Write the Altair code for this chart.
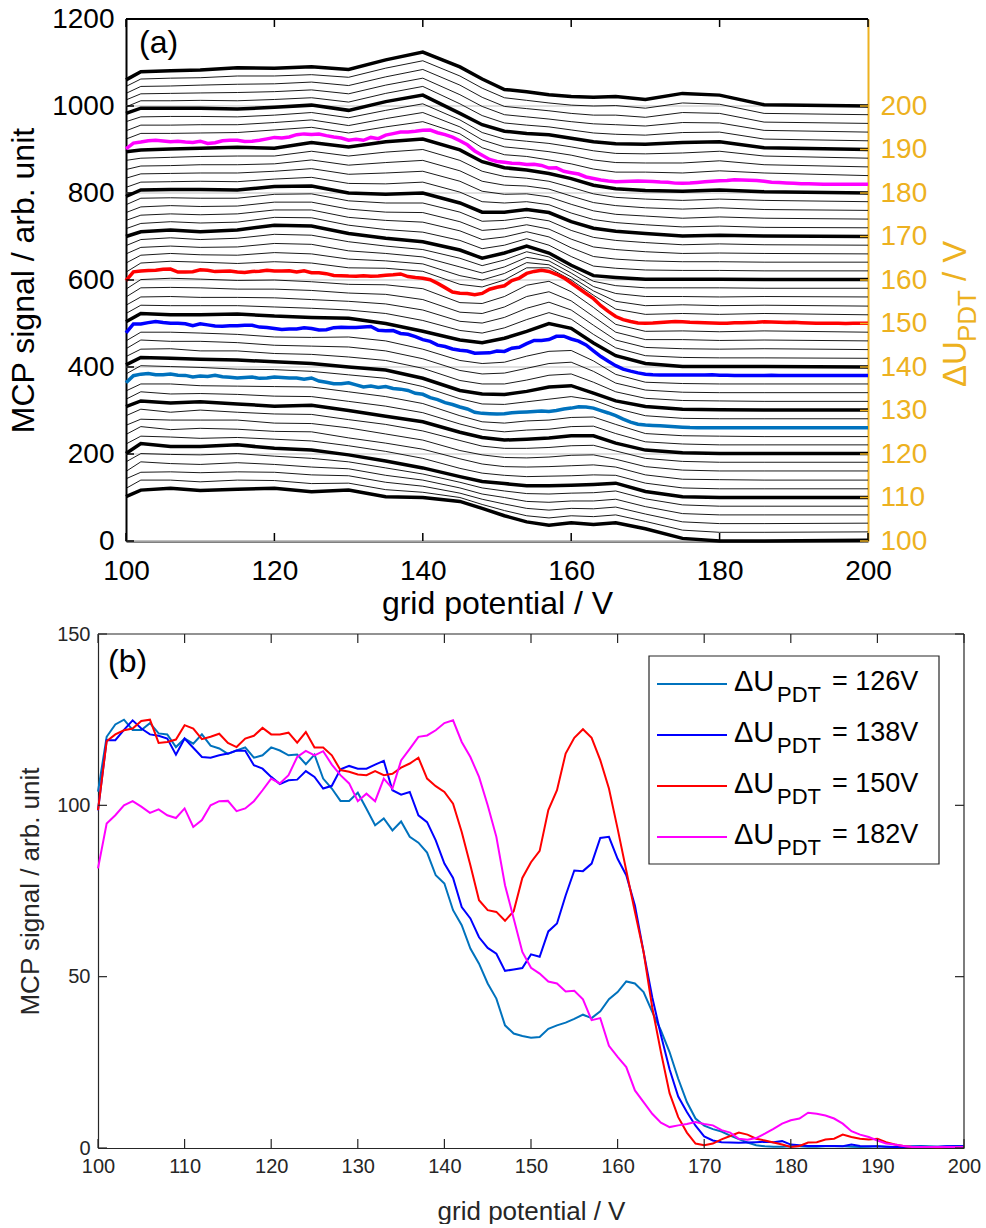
import altair as alt
import pandas as pd

# ---------------- data ----------------
# Panel (a): grid potential sampling used for the stacked (waterfall) curves
G = [100, 102, 106, 110, 115, 120, 125, 130, 135, 140, 145, 148, 151, 154,
     157, 160, 163, 166, 170, 175, 180, 186, 200]

# thick black curves (every 10 V of Delta U_PDT), raw signal (no offset)
THICK = {
    100: [102, 117, 121, 116, 119, 121, 113, 117, 102, 100, 91, 75, 58, 44, 36, 42, 38, 42, 28, 6, 0, 0, 2],
    110: [101, 124, 117, 117, 121, 113, 109, 98, 84, 68, 48, 37, 32, 27, 27, 28, 30, 33, 14, 2, 0, 0, 0],
    120: [109, 122, 117, 120, 115, 110, 112, 100, 87, 74, 50, 38, 32, 34, 37, 42, 42, 25, 9, 3, 1, 1, 1],
    130: [105, 122, 120, 118, 116, 112, 108, 100, 93, 74, 46, 38, 37, 44, 54, 57, 40, 22, 9, 3, 2, 1, 1],
    140: [104, 123, 120, 120, 122, 117, 114, 112, 100, 82, 62, 56, 66, 82, 100, 89, 55, 26, 8, 1, 1, 1, 0],
    160: [100, 111, 115, 111, 115, 126, 124, 107, 96, 88, 69, 50, 62, 78, 62, 34, 10, 6, 2, 2, 2, 1, 1],
    170: [92, 107, 108, 108, 107, 115, 116, 100, 97, 100, 77, 56, 56, 62, 55, 34, 19, 12, 7, 1, 3, 1, 0],
    180: [95, 99, 101, 103, 105, 103, 116, 106, 118, 124, 99, 72, 58, 53, 45, 33, 18, 10, 6, 4, 7, 3, 0],
    190: [83, 95, 95, 95, 93, 97, 102, 90, 110, 125, 83, 57, 42, 37, 34, 26, 18, 13, 12, 16, 18, 4, 0],
    200: [60, 79, 81, 83, 88, 87, 90, 84, 106, 124, 90, 62, 38, 33, 26, 22, 20, 22, 15, 29, 25, 3, 0],
}

# thin black curves (2 V steps)
THIN = {
    102: [101, 120, 120, 116, 120, 119, 112, 113, 98, 92, 80, 64, 50, 38, 33, 38, 36, 40, 25, 5, 0, 0, 1],
    104: [103, 118, 119, 117, 119, 118, 112, 110, 95, 86, 70, 56, 45, 35, 31, 35, 34, 38, 22, 4, 0, 0, 1],
    106: [100, 122, 118, 116, 120, 116, 110, 106, 91, 80, 62, 48, 40, 31, 29, 32, 32, 36, 19, 3, 0, 0, 0],
    108: [102, 121, 119, 118, 121, 115, 110, 102, 88, 74, 55, 42, 35, 29, 28, 30, 31, 35, 17, 3, 0, 0, 0],
    112: [103, 121, 119, 116, 118, 114, 110, 99, 86, 70, 47, 36, 31, 28, 29, 30, 32, 31, 13, 2, 0, 0, 0],
    114: [105, 123, 116, 119, 117, 112, 111, 97, 85, 71, 49, 37, 31, 30, 31, 33, 35, 30, 12, 2, 1, 0, 0],
    116: [106, 120, 118, 118, 118, 111, 110, 100, 86, 72, 48, 38, 32, 31, 33, 37, 38, 28, 11, 3, 1, 1, 1],
    118: [108, 123, 116, 121, 116, 112, 111, 99, 88, 73, 51, 38, 33, 33, 35, 39, 40, 27, 10, 3, 1, 1, 1],
    122: [106, 123, 118, 119, 117, 113, 112, 101, 90, 75, 49, 36, 31, 35, 37, 43, 44, 27, 8, 3, 1, 1, 1],
    124: [105, 121, 121, 117, 116, 115, 114, 103, 92, 76, 48, 34, 31, 36, 38, 44, 45, 28, 7, 2, 1, 0, 0],
    128: [104, 123, 121, 119, 115, 114, 110, 102, 94, 75, 47, 35, 34, 40, 46, 52, 44, 25, 8, 2, 1, 1, 1],
    132: [104, 121, 122, 117, 117, 111, 109, 103, 95, 77, 49, 41, 41, 50, 61, 64, 45, 23, 8, 3, 2, 1, 1],
    134: [102, 122, 119, 119, 116, 110, 108, 106, 97, 79, 52, 44, 46, 57, 68, 71, 50, 23, 7, 2, 1, 1, 1],
    136: [100, 120, 120, 118, 115, 109, 108, 109, 100, 81, 55, 48, 51, 65, 76, 78, 54, 23, 5, 2, 1, 1, 1],
    142: [103, 122, 121, 121, 121, 118, 115, 111, 103, 87, 64, 58, 70, 89, 105, 90, 55, 24, 6, 2, 1, 1, 0],
    144: [102, 121, 122, 120, 120, 119, 115, 111, 105, 91, 65, 61, 74, 95, 109, 91, 56, 22, 5, 2, 1, 2, 0],
    146: [101, 122, 123, 122, 119, 119, 116, 110, 107, 95, 66, 63, 78, 102, 113, 92, 56, 20, 3, 3, 1, 2, 0],
    148: [99, 121, 124, 122, 119, 120, 116, 110, 109, 100, 68, 66, 82, 108, 117, 93, 57, 18, 2, 3, 1, 3, 0],
    152: [98, 119, 123, 121, 118, 122, 119, 108, 107, 100, 70, 64, 80, 108, 108, 80, 45, 13, 1, 3, 1, 3, 0],
    154: [99, 117, 121, 118, 117, 123, 120, 108, 104, 97, 70, 60, 75, 100, 95, 67, 35, 11, 1, 3, 1, 2, 0],
    156: [100, 115, 118, 115, 116, 124, 122, 107, 101, 93, 70, 56, 70, 92, 84, 56, 25, 9, 2, 2, 1, 2, 1],
    158: [99, 113, 117, 113, 116, 125, 123, 108, 98, 90, 70, 53, 66, 85, 73, 45, 17, 7, 2, 2, 2, 1, 1],
    162: [98, 110, 114, 111, 113, 124, 123, 106, 96, 90, 71, 52, 60, 75, 60, 34, 12, 7, 3, 2, 2, 1, 1],
    164: [97, 109, 112, 110, 112, 121, 121, 104, 97, 93, 73, 53, 59, 71, 59, 34, 14, 8, 4, 2, 2, 1, 1],
    166: [95, 108, 111, 109, 110, 119, 119, 103, 96, 95, 74, 54, 58, 67, 57, 34, 16, 10, 5, 1, 2, 1, 0],
    168: [93, 108, 109, 108, 108, 117, 118, 102, 97, 97, 76, 55, 57, 64, 56, 34, 18, 11, 6, 1, 3, 1, 0],
    172: [93, 105, 106, 107, 106, 112, 116, 102, 101, 105, 82, 60, 57, 60, 53, 34, 19, 12, 7, 2, 4, 1, 0],
    174: [94, 104, 105, 106, 106, 110, 116, 103, 106, 110, 87, 64, 57, 58, 51, 34, 19, 11, 7, 2, 5, 2, 0],
    176: [94, 102, 103, 105, 105, 107, 116, 104, 110, 115, 91, 67, 58, 56, 49, 33, 18, 11, 6, 3, 6, 2, 0],
    178: [95, 100, 102, 104, 105, 105, 116, 105, 114, 120, 95, 70, 58, 54, 47, 33, 18, 10, 6, 3, 6, 3, 0],
    184: [84, 97, 97, 98, 99, 105, 111, 98, 112, 124, 96, 64, 48, 44, 36, 27, 15, 8, 8, 6, 11, 6, 0],
    186: [83, 96, 96, 97, 97, 102, 108, 95, 111, 125, 92, 62, 46, 41, 35, 27, 16, 10, 9, 9, 14, 5, 0],
    188: [84, 95, 96, 96, 95, 99, 105, 93, 110, 125, 88, 59, 44, 39, 34, 26, 17, 11, 10, 12, 16, 5, 0],
    192: [78, 92, 92, 93, 92, 95, 99, 89, 109, 125, 85, 58, 41, 36, 32, 25, 18, 15, 13, 19, 20, 4, 0],
    194: [74, 88, 89, 90, 91, 93, 97, 88, 108, 124, 86, 59, 40, 35, 30, 24, 19, 17, 14, 22, 21, 4, 0],
    196: [69, 85, 86, 88, 90, 91, 95, 87, 107, 124, 88, 60, 39, 34, 29, 23, 19, 19, 14, 25, 23, 3, 0],
    198: [65, 82, 84, 85, 89, 89, 92, 86, 107, 124, 89, 61, 39, 33, 27, 22, 20, 21, 15, 27, 24, 3, 0],
}

# highlighted curves, 1 V steps (panel b, also coloured in panel a)
V1 = list(range(100, 201))
S126 = [104, 120, 123.6, 125, 122, 122, 124, 121, 120.7, 117,
        119.5, 118, 120.7, 117.4, 116.6, 115, 116, 116.9, 113.9, 114.6,
        116.9, 116, 114.6, 114.8, 112, 114.8, 107.8, 104.9, 101.3, 101.3,
        103.7, 99, 94.2, 96.2, 92.7, 95.3, 90.8, 89.1, 86.2, 79.6,
        77.2, 69.4, 65, 58.2, 53.8, 48, 43.6, 35.8, 33.4, 32.7,
        32.2, 32.4, 34.8, 35.8, 36.6, 37.7, 38.9, 37.9, 39.9, 43.4,
        45.5, 48.6, 48, 45.5, 39.7, 34.3, 28, 20.2, 13.4, 8.6,
        6.5, 5.5, 4.8, 3.6, 2.6, 1.6, 0.8, 0.5, 0.4, 0.4,
        0.5, 0.5, 0.4, 0.4, 0.5, 0.6, 0.5, 0.4, 0.3, 0.4,
        0.5, 0.4, 0.3, 0.4, 0.5, 0.6, 0.5, 0.4, 0.5, 0.6,
        0.6]
S138 = [98.5, 119, 119, 122, 124.8, 122.4, 120.7, 120.3, 119.5, 114.8,
        119.5, 116.8, 114.1, 113.9, 114.6, 115.1, 116, 115.9, 111.7, 110.7,
        108.3, 106.2, 107.3, 107.5, 110, 108.3, 104.9, 105.7, 110.5, 111.5,
        110.7, 110.7, 111.9, 113, 104.4, 103.1, 103.9, 97.1, 95.1, 89.8,
        83, 78.8, 70.3, 67, 61.5, 58.4, 56.7, 51.7, 52.1, 52.5,
        56.5, 55.8, 63.2, 65.5, 73.7, 81, 80.8, 83, 90.5, 90.8,
        84.4, 79.6, 70.8, 57.2, 44, 33, 23, 15, 10.5, 6.5,
        3.4, 2.2, 1.7, 1.6, 1.5, 1.6, 1.7, 1.8, 1.7, 2,
        1, 0.8, 0.6, 0.6, 0.6, 0.6, 0.5, 1, 0.6, 0.5,
        0.5, 0.4, 0.3, 0.3, 0.4, 0.4, 0.3, 0.4, 0.5, 0.5,
        0.5]
S150 = [98.6, 118.7, 120.7, 121.9, 122.4, 124.6, 125, 118.2, 118.5, 119.2,
        123.4, 122.4, 119.3, 120, 120.9, 118.2, 117, 119.5, 120.3, 122.6,
        120.7, 120.7, 121.2, 118.3, 121.4, 116.9, 116.9, 114.6, 110.3, 109.8,
        109, 108.8, 110, 108.8, 109.2, 111, 112.2, 113.9, 107.8, 105.6,
        103.9, 100.5, 92.2, 82.5, 72.3, 69.4, 68.9, 66.3, 69.1, 78.8,
        83.4, 86.7, 98.6, 104.4, 115.1, 119.7, 122.2, 119.7, 113.2, 104.9,
        93.2, 81, 68.9, 57.2, 41, 28, 16, 9, 4.5, 1.3,
        0.8, 1.3, 2.5, 3.5, 4.5, 3.9, 2.7, 2.2, 1.6, 1,
        0.3, 0.6, 1.6, 1.7, 2.5, 2.7, 3.9, 3.2, 2.7, 2.5,
        2.7, 1.7, 1, 0.6, 0.3, 0.3, 0.3, 0.2, 0.3, 0.3,
        0.3]
S182 = [81.6, 94.7, 97.1, 100, 101.2, 99.6, 97.8, 98.8, 97.1, 96.3,
        99.1, 93.7, 95.7, 100, 101.2, 101.3, 98.3, 99.1, 101.2, 104.4,
        107.8, 106.4, 108.8, 114.1, 115.9, 114.6, 115.8, 111.9, 108.8, 106.4,
        101.2, 103.4, 101.2, 107.8, 104.9, 113.1, 116.5, 120, 120.4, 121.9,
        124, 124.8, 118.5, 114.1, 108.3, 100, 90.8, 76.7, 67, 57.2,
        52.6, 50.9, 48.6, 48, 45.7, 45.9, 43.4, 37.3, 37.9, 29.8,
        26.6, 23.6, 16.8, 13.4, 10, 7.4, 6.1, 6.6, 7, 7.6,
        7, 6.6, 5.2, 4.5, 2.7, 2.4, 2.9, 4.2, 5.6, 7.1,
        8.1, 8.6, 10.3, 10, 9.5, 8.6, 7.1, 4.9, 3.9, 3.2,
        2.2, 1.3, 1, 0.6, 0.3, 0.3, 0.3, 0.3, 0.3, 0.3,
        0.3]

SERIES = [("126", S126), ("138", S138), ("150", S150), ("182", S182)]
COLORS = ["#0072BD", "#0000FF", "#FF0000", "#FF00FF"]

XT_A = [100, 120, 140, 160, 180, 200]
YT_A = [0, 200, 400, 600, 800, 1000, 1200]
RT_A = [100, 110, 120, 130, 140, 150, 160, 170, 180, 190, 200]
XT_B = [100, 110, 120, 130, 140, 150, 160, 170, 180, 190, 200]
YT_B = [0, 50, 100, 150]
LEG_TEXT = ["= 126V", "= 138V", " = 150V", " = 182V"]

ORANGE = "#EDB120"
DG = "#262626"
FONT = "Liberation Sans"

# ---------------- panel (a) ----------------
D = 28                 # panel (a) plot starts D px right of panel (b)'s plot
W_A, H_A = 742, 522
W_A2 = W_A + D


def stack(curves, grid):
    rows = []
    for du, vals in curves:
        for v, s in zip(grid, vals):
            rows.append({"V": v, "Y": s + (int(du) - 100) * 10, "du": str(du)})
    return pd.DataFrame(rows)


df_thin = stack(THIN.items(), G)
df_thick = stack(THICK.items(), G)
df_col = stack(SERIES, V1)

xa = alt.Scale(domain=[100, 200], range=[D, W_A2], nice=False, zero=False)
ya = alt.Scale(domain=[0, 1200], nice=False, zero=False)
ax_xa = alt.Axis(values=XT_A, format="d", title="grid potential / V", labelFontSize=28, titleFontSize=32,
                 labelColor="black", titleColor="black", domainColor="black", domainWidth=2,
                 ticks=False, tickSize=0, labelPadding=16, titlePadding=3, labelFlush=False,
                 labelOverlap=False, grid=False, titleFontWeight="normal", labelFont=FONT, titleFont=FONT)
ax_ya = alt.Axis(values=YT_A, format="d", title="MCP signal / arb. unit", labelFontSize=28, titleFontSize=32,
                 labelColor="black", titleColor="black", domainColor="black", domainWidth=2,
                 ticks=False, tickSize=0, labelPadding=12, titlePadding=11, labelFlush=False,
                 labelOverlap=False, grid=False, offset=-D,
                 titleFontWeight="normal", labelFont=FONT, titleFont=FONT)

X_A = alt.X("V:Q", scale=xa, axis=ax_xa)
Y_A = alt.Y("Y:Q", scale=ya, axis=ax_ya)

one = pd.DataFrame({"k": [0]})
grid_a = alt.Chart(pd.DataFrame({"Y": YT_A})).mark_rule(color="#d6d6d6", strokeWidth=1.6).encode(
    y=Y_A, x=alt.value(D), x2=alt.value(W_A2))
thin = alt.Chart(df_thin).mark_line(color="black", strokeWidth=0.9).encode(x=X_A, y=Y_A, detail="du:N")
thick = alt.Chart(df_thick).mark_line(color="black", strokeWidth=3.5).encode(x=X_A, y=Y_A, detail="du:N")
col = alt.Chart(df_col).mark_line(strokeWidth=3.5).encode(
    x=X_A, y=Y_A,
    color=alt.Color("du:N", scale=alt.Scale(domain=[s[0] for s in SERIES], range=COLORS), legend=None))

tl_a = alt.Chart(pd.DataFrame({"Y": YT_A})).mark_rule(color="black", strokeWidth=1.5).encode(
    y=Y_A, x=alt.value(D), x2=alt.value(D + 8))
tb_a = alt.Chart(pd.DataFrame({"V": XT_A})).mark_rule(color="black", strokeWidth=1.5).encode(
    x=X_A, y=alt.value(H_A), y2=alt.value(H_A - 8))
tt_a = alt.Chart(pd.DataFrame({"V": XT_A})).mark_rule(color="black", strokeWidth=1.5).encode(
    x=X_A, y=alt.value(0), y2=alt.value(8))
top_a = alt.Chart(one).mark_rule(color="black", strokeWidth=2).encode(
    x=alt.value(D), x2=alt.value(W_A2), y=alt.value(0))
lab_a = alt.Chart(pd.DataFrame({"t": ["(a)"]})).mark_text(
    align="left", baseline="middle", fontSize=32, color="black", font=FONT).encode(
    text="t:N", x=alt.value(D + 13), y=alt.value(24))


def rtext(t, x, y, size):
    return alt.Chart(pd.DataFrame({"t": [t]})).mark_text(
        align="left", baseline="middle", angle=270, fontSize=size, color=ORANGE, font=FONT).encode(
        text="t:N", x=alt.value(x), y=alt.value(y))


rt1 = rtext("\u0394U", W_A2 + 88, 368, 33)
rt2 = rtext("PDT", W_A2 + 100, 323, 26)
rt3 = rtext("/ V", W_A2 + 88, 262, 33)

inner_a = alt.layer(grid_a, thin, thick, col, tl_a, tb_a, tt_a, top_a, lab_a, rt1, rt2, rt3)

right_a = alt.Chart(pd.DataFrame({"R": RT_A})).mark_rule(color=ORANGE, strokeWidth=1.5).encode(
    y=alt.Y("R:Q", scale=alt.Scale(domain=[100, 220], nice=False, zero=False),
            axis=alt.Axis(orient="right", values=RT_A, format="d", title=None, labelColor=ORANGE,
                          labelFontSize=28, domainColor=ORANGE, domainWidth=2, ticks=False, tickSize=0,
                          labelPadding=12, labelFlush=False, labelOverlap=False, grid=False, labelFont=FONT)),
    x=alt.value(W_A2 - 8), x2=alt.value(W_A2))

panel_a = alt.layer(inner_a, right_a).resolve_scale(y="independent").properties(width=W_A2, height=H_A)

# ---------------- panel (b) ----------------
W_B, H_B = 866, 514
xb = alt.Scale(domain=[100, 200], nice=False, zero=False)
yb = alt.Scale(domain=[0, 150], nice=False, zero=False)
ax_xb = alt.Axis(values=XT_B, format="d", title="grid potential / V", labelFontSize=20, titleFontSize=26,
                 labelColor=DG, titleColor=DG, domainColor=DG, domainWidth=1.2, ticks=False, tickSize=0,
                 labelPadding=8, titlePadding=22, labelFlush=False, labelOverlap=False, grid=False,
                 titleFontWeight="normal", labelFont=FONT, titleFont=FONT)
ax_yb = alt.Axis(values=YT_B, format="d", title="MCP signal / arb. unit", labelFontSize=20, titleFontSize=26,
                 labelColor=DG, titleColor=DG, domainColor=DG, domainWidth=1.2, ticks=False, tickSize=0,
                 labelPadding=8, titlePadding=13.6, labelFlush=False, labelOverlap=False, grid=False,
                 titleFontWeight="normal", labelFont=FONT, titleFont=FONT)
X_B = alt.X("V:Q", scale=xb, axis=ax_xb)
Y_B = alt.Y("S:Q", scale=yb, axis=ax_yb)

layers_b = []
for (name, vals), c in zip(SERIES, COLORS):
    d = pd.DataFrame({"V": V1, "S": vals})
    layers_b.append(alt.Chart(d).mark_line(color=c, strokeWidth=2).encode(x=X_B, y=Y_B))

layers_b.append(alt.Chart(pd.DataFrame({"S": YT_B})).mark_rule(color=DG, strokeWidth=1.2).encode(
    y=Y_B, x=alt.value(0), x2=alt.value(9)))
layers_b.append(alt.Chart(pd.DataFrame({"S": YT_B})).mark_rule(color=DG, strokeWidth=1.2).encode(
    y=Y_B, x=alt.value(W_B - 9), x2=alt.value(W_B)))
layers_b.append(alt.Chart(pd.DataFrame({"V": XT_B})).mark_rule(color=DG, strokeWidth=1.2).encode(
    x=X_B, y=alt.value(H_B), y2=alt.value(H_B - 9)))
layers_b.append(alt.Chart(pd.DataFrame({"V": XT_B})).mark_rule(color=DG, strokeWidth=1.2).encode(
    x=X_B, y=alt.value(0), y2=alt.value(9)))
layers_b.append(alt.Chart(one).mark_rule(color=DG, strokeWidth=1.2).encode(
    x=alt.value(0), x2=alt.value(W_B), y=alt.value(0)))
layers_b.append(alt.Chart(one).mark_rule(color=DG, strokeWidth=1.2).encode(
    x=alt.value(W_B), y=alt.value(0), y2=alt.value(H_B)))
layers_b.append(alt.Chart(pd.DataFrame({"t": ["(b)"]})).mark_text(
    align="left", baseline="middle", fontSize=32, color="black", font=FONT).encode(
    text="t:N", x=alt.value(10), y=alt.value(28)))

# legend box
layers_b.append(alt.Chart(one).mark_rect(fill="white", stroke=DG, strokeWidth=1.2).encode(
    x=alt.value(551), x2=alt.value(841), y=alt.value(22), y2=alt.value(230)))
ROWS = [50, 101, 152, 203]
for i, ((name, _), c) in enumerate(zip(SERIES, COLORS)):
    ry = ROWS[i]
    layers_b.append(alt.Chart(one).mark_rule(color=c, strokeWidth=2).encode(
        x=alt.value(559), x2=alt.value(629), y=alt.value(ry)))
    layers_b.append(alt.Chart(pd.DataFrame({"t": ["\u0394U"]})).mark_text(
        align="left", baseline="middle", fontSize=29, color="black", font=FONT).encode(
        text="t:N", x=alt.value(636), y=alt.value(ry - 2)))
    layers_b.append(alt.Chart(pd.DataFrame({"t": ["PDT"]})).mark_text(
        align="left", baseline="middle", fontSize=22, color="black", font=FONT).encode(
        text="t:N", x=alt.value(679), y=alt.value(ry + 11)))
    layers_b.append(alt.Chart(pd.DataFrame({"t": [LEG_TEXT[i]]})).mark_text(
        align="left", baseline="middle", fontSize=27, color="black", font=FONT).encode(
        text="t:N", x=alt.value(734), y=alt.value(ry - 2)))

panel_b = alt.layer(*layers_b).properties(width=W_B, height=H_B)

chart = alt.vconcat(panel_a, panel_b, spacing=5).properties(
    padding={"left": 7, "top": 5, "right": 0, "bottom": 0}, background="white"
).configure(font=FONT).configure_view(strokeWidth=0)

chart.save("out.html", embed_options={"renderer": "svg", "actions": False})
